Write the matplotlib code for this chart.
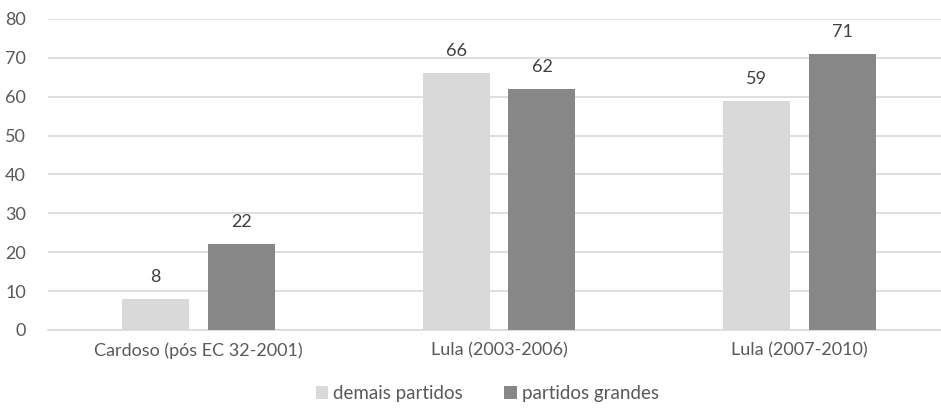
import matplotlib
matplotlib.use("Agg")
import matplotlib.pyplot as plt
import numpy as np

periods = ["Cardoso (pós EC 32-2001)", "Lula (2003-2006)", "Lula (2007-2010)"]
demais = [8, 66, 59]
grandes = [22, 62, 71]

light = "#d9d9d9"
dark = "#878787"
text_col = "#595959"

plt.rcParams["font.family"] = ["Lato", "DejaVu Sans"]

fig = plt.figure(figsize=(9.41, 4.13), dpi=100)
# plot area runs a little past the right edge of the canvas
ax = fig.add_axes([0.0513, 0.201, 0.958, 0.753])

x = np.arange(len(periods))
w = 0.223
off = 0.143
b1 = ax.bar(x - off, demais, w, color=light, label="demais partidos", zorder=3)
b2 = ax.bar(x + off, grandes, w, color=dark, label="partidos grandes", zorder=3)

for bars, vals in ((b1, demais), (b2, grandes)):
    for rect, v in zip(bars, vals):
        ax.text(rect.get_x() + rect.get_width() / 2, v + 3.6, str(v),
                ha="center", va="bottom", fontsize=13, color="#404040")

ax.set_xlim(-0.5, 2.5)
ax.set_ylim(0, 80)
ax.set_yticks(range(0, 81, 10))
ax.set_xticks(x)
ax.set_xticklabels(periods)
ax.tick_params(axis="both", length=0, labelsize=13, colors=text_col)
ax.tick_params(axis="x", pad=9)
ax.tick_params(axis="y", pad=16)
ax.yaxis.grid(True, color="#d9d9d9", linewidth=1.2, zorder=0)
for s in ("top", "right", "left"):
    ax.spines[s].set_visible(False)
ax.spines["bottom"].set_color("#d9d9d9")
ax.spines["bottom"].set_linewidth(1.2)

leg = fig.legend(loc="lower center", bbox_to_anchor=(0.518, -0.015), ncol=2,
                 frameon=False, fontsize=13.5, handlelength=0.65, handleheight=0.65,
                 handletextpad=0.3, columnspacing=2.2)
for t in leg.get_texts():
    t.set_color(text_col)

fig.savefig("out.png", dpi=100)
